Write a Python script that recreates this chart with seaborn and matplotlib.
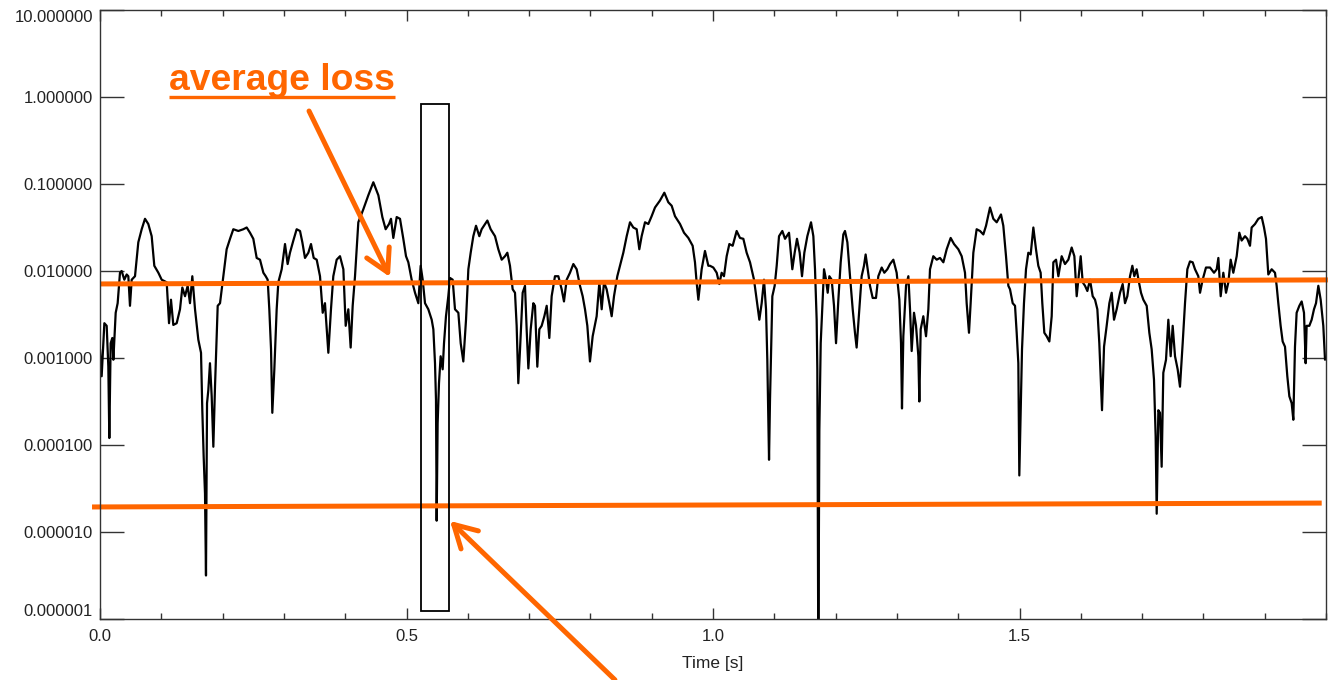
import numpy as np
import pandas as pd
import matplotlib
matplotlib.use("Agg")
import matplotlib.pyplot as plt
import matplotlib.transforms as mtransforms
from matplotlib.patches import Rectangle
from matplotlib.lines import Line2D
from matplotlib.ticker import NullLocator, MultipleLocator
import seaborn as sns

# ---------------- data ----------------
time_a = [0.0000, 0.0027, 0.0071, 0.0109, 0.0136, 0.0152, 0.0174, 0.0201, 0.0218, 0.0256,
          0.0288, 0.0326, 0.0353, 0.0397, 0.0435, 0.0462, 0.0489, 0.0517, 0.0571, 0.0625,
          0.0680, 0.0734, 0.0788, 0.0843, 0.0886, 0.0952, 0.1006, 0.1088, 0.1126, 0.1158,
          0.1196, 0.1251, 0.1305, 0.1343, 0.1387, 0.1430, 0.1468, 0.1506, 0.1550, 0.1604,
          0.1648, 0.1669, 0.1691, 0.1713, 0.1729, 0.1746, 0.1767, 0.1794, 0.1822, 0.1849,
          0.1876, 0.1920, 0.1958, 0.2012, 0.2066, 0.2121, 0.2175, 0.2257, 0.2338, 0.2393,
          0.2447, 0.2501, 0.2556, 0.2610, 0.2665, 0.2703, 0.2735, 0.2762, 0.2790, 0.2811,
          0.2844, 0.2882, 0.2909, 0.2964, 0.3018, 0.3061, 0.3099, 0.3154, 0.3208, 0.3263,
          0.3301, 0.3344, 0.3399, 0.3442, 0.3486, 0.3535, 0.3589, 0.3633, 0.3670, 0.3725,
          0.3768, 0.3806, 0.3861, 0.3915, 0.3970, 0.4008, 0.4051, 0.4089, 0.4122, 0.4160,
          0.4214, 0.4296, 0.4377, 0.4459, 0.4541, 0.4606, 0.4660, 0.4715, 0.4747, 0.4785,
          0.4840, 0.4894, 0.4948]
log_a = [-2.90, -3.21, -2.60, -2.63, -3.10, -3.92, -2.83, -2.77, -3.02, -2.48,
         -2.37, -2.02, -2.00, -2.10, -2.04, -2.06, -2.40, -2.10, -2.06, -1.67,
         -1.52, -1.40, -1.46, -1.60, -1.94, -2.02, -2.10, -2.13, -2.60, -2.33,
         -2.62, -2.60, -2.44, -2.19, -2.29, -2.17, -2.37, -2.06, -2.44, -2.79,
         -2.94, -3.60, -4.13, -4.56, -5.50, -3.52, -3.37, -3.06, -3.44, -4.02,
         -3.33, -2.40, -2.37, -2.06, -1.75, -1.63, -1.52, -1.54, -1.52, -1.50,
         -1.56, -1.63, -1.85, -1.87, -2.02, -2.06, -2.10, -2.44, -2.90, -3.63,
         -3.13, -2.44, -2.13, -1.98, -1.69, -1.92, -1.79, -1.65, -1.52, -1.54,
         -1.67, -1.85, -1.79, -1.69, -1.85, -1.87, -2.06, -2.48, -2.37, -2.94,
         -2.44, -2.06, -1.87, -1.83, -1.98, -2.63, -2.44, -2.88, -2.40, -2.06,
         -1.44, -1.29, -1.13, -0.98, -1.13, -1.38, -1.52, -1.46, -1.40, -1.62,
         -1.38, -1.40, -1.63]

time_b = [0.4992, 0.5030, 0.5084, 0.5139, 0.5193, 0.5231, 0.5264, 0.5302, 0.5356, 0.5411,
          0.5438, 0.5465, 0.5481, 0.5492, 0.5508, 0.5530, 0.5557, 0.5590, 0.5612, 0.5644,
          0.5682, 0.5710, 0.5753, 0.5791, 0.5846, 0.5884, 0.5927, 0.5971, 0.6009, 0.6047,
          0.6090, 0.6134, 0.6188, 0.6226, 0.6281, 0.6319, 0.6373, 0.6444, 0.6498, 0.6553,
          0.6607, 0.6645, 0.6688, 0.6732, 0.6770, 0.6797, 0.6824, 0.6852, 0.6895, 0.6933,
          0.6960, 0.6988, 0.7026, 0.7069, 0.7096, 0.7134, 0.7167, 0.7205, 0.7249, 0.7287,
          0.7330, 0.7368, 0.7422, 0.7477, 0.7531, 0.7569, 0.7613, 0.7667, 0.7722, 0.7776,
          0.7830, 0.7874, 0.7912, 0.7950, 0.7993, 0.8037, 0.8102, 0.8146, 0.8184, 0.8222,
          0.8265, 0.8309, 0.8347, 0.8385, 0.8439, 0.8483, 0.8537, 0.8592, 0.8646, 0.8700,
          0.8755, 0.8798, 0.8836, 0.8891, 0.8945, 0.8999, 0.9054, 0.9135, 0.9206, 0.9271,
          0.9326, 0.9380, 0.9462, 0.9527, 0.9598, 0.9668, 0.9706, 0.9733, 0.9761, 0.9815,
          0.9869, 0.9924]
log_b = [-1.83, -1.90, -2.10, -2.25, -2.37, -1.94, -2.10, -2.37, -2.44, -2.56,
         -2.67, -3.06, -3.48, -4.87, -3.75, -3.29, -2.98, -3.13, -2.83, -2.52,
         -2.29, -2.08, -2.10, -2.44, -2.48, -2.83, -3.04, -2.56, -1.98, -1.79,
         -1.60, -1.48, -1.60, -1.52, -1.46, -1.42, -1.52, -1.60, -1.75, -1.87,
         -1.83, -1.79, -1.94, -2.21, -2.25, -2.63, -3.29, -2.90, -2.25, -2.17,
         -2.67, -3.12, -2.67, -2.37, -2.40, -3.10, -2.67, -2.63, -2.52, -2.40,
         -2.77, -2.29, -2.06, -2.06, -2.21, -2.35, -2.10, -2.02, -1.92, -1.98,
         -2.17, -2.29, -2.44, -2.63, -3.04, -2.75, -2.52, -2.13, -2.44, -2.13,
         -2.21, -2.37, -2.52, -2.29, -2.06, -1.94, -1.79, -1.60, -1.44, -1.50,
         -1.52, -1.75, -1.60, -1.44, -1.46, -1.37, -1.27, -1.19, -1.10, -1.21,
         -1.25, -1.37, -1.46, -1.56, -1.62, -1.71, -1.90, -2.13, -2.33, -1.98,
         -1.77, -1.94]

time_c = [0.9951, 1.0005, 1.0060, 1.0103, 1.0141, 1.0179, 1.0223, 1.0267, 1.0321, 1.0386,
          1.0440, 1.0495, 1.0549, 1.0604, 1.0636, 1.0669, 1.0712, 1.0756, 1.0794, 1.0832,
          1.0865, 1.0886, 1.0903, 1.0914, 1.0930, 1.0968, 1.1006, 1.1039, 1.1077, 1.1131,
          1.1175, 1.1240, 1.1294, 1.1332, 1.1370, 1.1414, 1.1452, 1.1490, 1.1539, 1.1599,
          1.1637, 1.1664, 1.1691, 1.1702, 1.1718, 1.1735, 1.1757, 1.1784, 1.1811, 1.1844,
          1.1871, 1.1898, 1.1936, 1.1974, 1.2007, 1.2045, 1.2083, 1.2126, 1.2153, 1.2192,
          1.2235, 1.2279, 1.2316, 1.2343, 1.2387, 1.2425, 1.2463, 1.2490, 1.2523, 1.2561,
          1.2605, 1.2659, 1.2697, 1.2752, 1.2795, 1.2844, 1.2888, 1.2942, 1.2996, 1.3040,
          1.3067, 1.3083, 1.3105, 1.3149, 1.3187, 1.3214, 1.3241, 1.3279, 1.3312, 1.3350,
          1.3366, 1.3388, 1.3431, 1.3475, 1.3513, 1.3540, 1.3594, 1.3649, 1.3703, 1.3758,
          1.3812, 1.3877, 1.3932, 1.4002, 1.4057, 1.4111, 1.4138, 1.4176, 1.4203, 1.4247,
          1.4301, 1.4356, 1.4410, 1.4454, 1.4519, 1.4573, 1.4628, 1.4698, 1.4736, 1.4780,
          1.4818]
log_c = [-1.94, -1.96, -2.02, -2.15, -2.02, -2.06, -1.83, -1.69, -1.71, -1.54,
         -1.62, -1.63, -1.79, -1.90, -2.00, -2.10, -2.33, -2.56, -2.37, -2.10,
         -2.44, -3.02, -3.75, -4.17, -3.48, -2.29, -2.17, -1.94, -1.60, -1.54,
         -1.63, -1.56, -1.98, -1.79, -1.63, -1.79, -2.06, -1.79, -1.60, -1.44,
         -1.60, -1.98, -2.56, -3.13, -6.50, -3.83, -2.83, -2.40, -1.98, -2.10,
         -2.25, -2.06, -2.10, -2.40, -2.83, -2.33, -1.90, -1.58, -1.54, -1.67,
         -2.06, -2.44, -2.71, -2.88, -2.44, -2.06, -1.94, -1.81, -1.98, -2.17,
         -2.31, -2.31, -2.06, -1.96, -2.02, -1.98, -1.92, -1.87, -2.02, -2.33,
         -2.83, -3.58, -2.75, -2.17, -2.06, -2.44, -2.92, -2.48, -2.63, -2.98,
         -3.50, -2.67, -2.52, -2.75, -2.44, -1.98, -1.83, -1.87, -1.85, -1.90,
         -1.75, -1.62, -1.69, -1.75, -1.83, -2.02, -2.37, -2.71, -2.37, -1.79,
         -1.52, -1.54, -1.58, -1.48, -1.27, -1.40, -1.44, -1.35, -1.48, -1.83,
         -2.17]

time_d = [1.4845, 1.4889, 1.4927, 1.4954, 1.4981, 1.4997, 1.5019, 1.5041, 1.5073, 1.5106,
          1.5144, 1.5182, 1.5226, 1.5269, 1.5307, 1.5345, 1.5372, 1.5405, 1.5443, 1.5487,
          1.5525, 1.5552, 1.5596, 1.5634, 1.5688, 1.5742, 1.5797, 1.5851, 1.5895, 1.5933,
          1.5960, 1.5998, 1.6031, 1.6069, 1.6107, 1.6150, 1.6194, 1.6232, 1.6270, 1.6302,
          1.6330, 1.6346, 1.6379, 1.6422, 1.6466, 1.6504, 1.6542, 1.6585, 1.6640, 1.6683,
          1.6721, 1.6759, 1.6803, 1.6841, 1.6873, 1.6911, 1.6949, 1.6982, 1.7020, 1.7075,
          1.7118, 1.7156, 1.7194, 1.7221, 1.7238, 1.7265, 1.7292, 1.7319, 1.7346, 1.7390,
          1.7428, 1.7466, 1.7499, 1.7537, 1.7580, 1.7618, 1.7662, 1.7700, 1.7738, 1.7781,
          1.7825, 1.7863, 1.7917, 1.7945, 1.7988, 1.8042, 1.8108, 1.8173, 1.8217, 1.8244,
          1.8282, 1.8325, 1.8369, 1.8407, 1.8445, 1.8488, 1.8543, 1.8586, 1.8624, 1.8679,
          1.8717, 1.8760, 1.8787, 1.8842, 1.8896, 1.8951, 1.8989, 1.9021, 1.9059, 1.9114,
          1.9168, 1.9195, 1.9222, 1.9260, 1.9293, 1.9331, 1.9369, 1.9402, 1.9440, 1.9467,
          1.9494, 1.9521, 1.9565, 1.9603, 1.9641, 1.9668, 1.9684, 1.9728, 1.9766, 1.9804,
          1.9837, 1.9875, 1.9913, 1.9956, 1.9984]
log_d = [-2.21, -2.37, -2.40, -2.71, -3.06, -4.35, -3.60, -2.90, -2.37, -1.98,
         -1.79, -1.81, -1.50, -1.75, -1.94, -2.02, -2.37, -2.71, -2.75, -2.81,
         -2.52, -1.90, -1.87, -2.06, -1.83, -1.92, -1.87, -1.73, -1.83, -2.29,
         -2.10, -1.83, -2.13, -2.17, -2.23, -2.10, -2.29, -2.33, -2.44, -2.83,
         -3.33, -3.60, -2.87, -2.63, -2.37, -2.25, -2.56, -2.44, -2.25, -2.15,
         -2.37, -2.29, -2.06, -1.94, -2.06, -1.98, -2.13, -2.25, -2.33, -2.40,
         -2.71, -2.90, -3.25, -3.90, -4.79, -3.60, -3.63, -4.25, -3.17, -3.02,
         -2.56, -2.98, -2.63, -2.98, -3.13, -3.33, -2.83, -2.37, -1.98, -1.89,
         -1.90, -1.98, -2.06, -2.25, -2.10, -1.96, -1.96, -2.02, -1.98, -1.85,
         -2.29, -2.02, -2.25, -2.13, -1.87, -2.02, -1.83, -1.56, -1.65, -1.60,
         -1.63, -1.71, -1.50, -1.46, -1.40, -1.38, -1.50, -1.63, -2.04, -1.98,
         -2.02, -2.17, -2.37, -2.63, -2.81, -2.87, -3.21, -3.44, -3.52, -3.71,
         -2.87, -2.48, -2.40, -2.35, -2.48, -3.06, -2.63, -2.63, -2.56, -2.44,
         -2.37, -2.17, -2.33, -2.63, -3.02]

# annotation lines (orange)
avg_line_t = [0.0, 2.003]
avg_line_v = [0.0071, 0.0079]
low_line_t = [-0.013, 1.993]
low_line_v = [1.94e-5, 2.15e-5]

# highlighted window
box_t = [0.5237, 0.5693]
box_v = [1.24e-6, 0.83]

# arrows: (tip, tail)
arrow1_tip, arrow1_tail = (0.473, 0.00853), (0.341, 0.69)
arrow2_tip, arrow2_tail = (0.571, 1.34e-5), (0.840, 2.0e-7)

label_text = "average loss"
label_pos = (0.1126, 1.20)

ytick_values = [1e-6, 1e-5, 1e-4, 1e-3, 1e-2, 1e-1, 1.0, 10.0]
ytick_labels = ["0.000001", "0.000010", "0.000100", "0.001000",
                "0.010000", "0.100000", "1.000000", "10.000000"]
xtick_values = [0.0, 0.5, 1.0, 1.5]
xtick_labels = ["0.0", "0.5", "1.0", "1.5"]

# ---------------- plotting ----------------
sns.set_theme(style="ticks")
plt.rcParams['font.family'] = ['Liberation Sans', 'DejaVu Sans']

ORANGE = "#FF6600"
AXC = "#333333"

time_s = np.array(time_a + time_b + time_c + time_d)
loss = 10.0 ** np.array(log_a + log_b + log_c + log_d)
df = pd.DataFrame({"Time [s]": time_s, "loss": loss})

fig = plt.figure(figsize=(13.28, 6.8), dpi=100)
ax = fig.add_axes([100 / 1328, 61 / 680, 1226 / 1328, 609 / 680])

sns.lineplot(data=df, x="Time [s]", y="loss", ax=ax, color="black",
             linewidth=1.6, estimator=None, sort=False)
ax.set_yscale("log")
ax.set_xlim(0, 2)
ax.set_ylim(1e-6, 10)

ax.set_yticks(ytick_values)
ax.set_yticklabels(ytick_labels)
ax.yaxis.set_minor_locator(NullLocator())
ax.set_xticks(xtick_values)
ax.set_xticklabels(xtick_labels)
ax.xaxis.set_minor_locator(MultipleLocator(0.1))

ax.tick_params(axis="y", which="major", direction="in", length=17, width=1,
               left=True, right=True, labelsize=12, pad=5, colors=AXC, labelcolor="#222222")
ax.tick_params(axis="x", which="major", direction="in", length=8, width=1,
               top=True, bottom=True, labelsize=12, pad=7, colors=AXC, labelcolor="#222222")
ax.tick_params(axis="x", which="minor", direction="in", length=4, width=1,
               top=True, bottom=True, colors=AXC)
for sp in ax.spines.values():
    sp.set_color(AXC)
    sp.set_linewidth(1.0)
    sp.set_visible(True)

# end labels sit inside the axis range, as in the reference
ylabs = ax.get_yticklabels()
ylabs[0].set_verticalalignment("bottom")
ylabs[-1].set_verticalalignment("top")

ax.set_xlabel("Time [s]", fontsize=12.5, color="#222222", labelpad=9)
ax.set_ylabel("")

# orange horizontal lines
ax.plot(avg_line_t, avg_line_v, color=ORANGE, lw=3.6, clip_on=False, solid_capstyle="butt")
ax.plot(low_line_t, low_line_v, color=ORANGE, lw=3.6, clip_on=False, solid_capstyle="butt")

# window rectangle
ax.add_patch(Rectangle((box_t[0], box_v[0]), box_t[1] - box_t[0], box_v[1] - box_v[0],
                       fill=False, edgecolor="black", lw=1.3, zorder=3))

# arrows
arrow_style = dict(arrowstyle="->,head_length=0.8,head_width=0.45", lw=3.6, color=ORANGE,
                   shrinkA=0, shrinkB=0, mutation_scale=20)
ax.annotate("", xy=arrow1_tip, xytext=arrow1_tail, arrowprops=arrow_style,
            annotation_clip=False)
ax.annotate("", xy=arrow2_tip, xytext=arrow2_tail, arrowprops=arrow_style,
            annotation_clip=False)

# label with underline
txt = ax.text(label_pos[0], label_pos[1], label_text, color=ORANGE, fontsize=26.8,
              fontweight="bold", ha="left", va="baseline")
fig.canvas.draw()
bb = txt.get_window_extent(renderer=fig.canvas.get_renderer())
base_y = ax.transData.transform(label_pos)[1]
fig.add_artist(Line2D([bb.x0, bb.x1], [base_y - 7, base_y - 7],
                      transform=mtransforms.IdentityTransform(),
                      color=ORANGE, lw=2.4, solid_capstyle="butt"))

fig.savefig("out.png", dpi=100)
